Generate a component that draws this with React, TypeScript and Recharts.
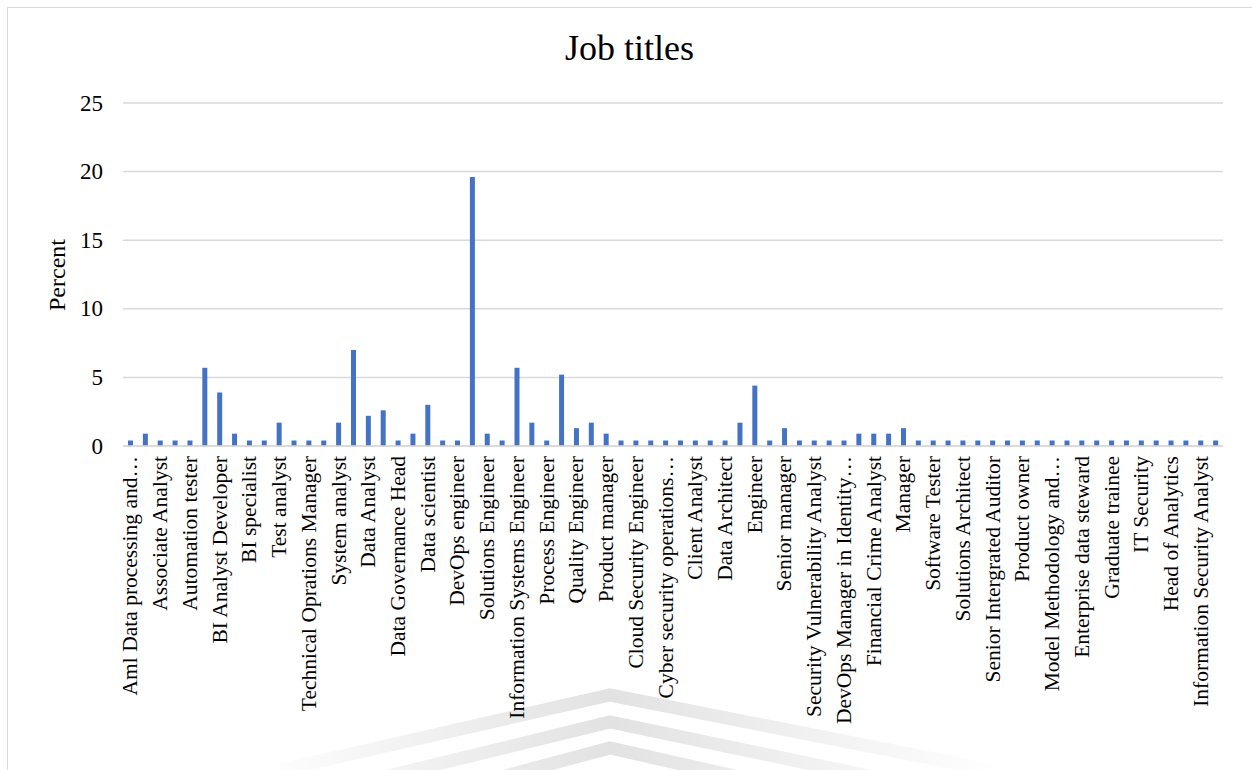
import { BarChart, Bar, XAxis, YAxis, CartesianGrid } from 'recharts'

const jobTitles = [
  'Aml Data processing and…', 'Business Analyst', 'Associate Analyst', 'Software Developer',
  'Automation tester', 'Full Stack Developer', 'BI Analyst Developer', 'Data Engineer',
  'BI specialist', 'IT Consultant', 'Test analyst', 'Systems Administrator',
  'Technical Oprations Manager', 'Network Engineer', 'System analyst', 'Java Developer',
  'Data Analyst', 'Analyst', 'Data Governance Head', 'Project manager',
  'Data scientist', 'Scrum Master', 'DevOps engineer', 'Software Engineer',
  'Solutions Engineer', 'Cloud Engineer', 'Information Systems Engineer', 'Test Engineer',
  'Process Engineer', 'Developer', 'Quality Engineer', 'QA Analyst',
  'Product manager', 'Team Lead', 'Cloud Security Engineer', 'Security Analyst',
  'Cyber security operations…', 'Database Administrator', 'Client Analyst', 'Risk Analyst',
  'Data Architect', 'Consultant', 'Engineer', 'Technical Lead',
  'Senior manager', 'Support Engineer', 'Security Vulnerability Analyst', 'Penetration Tester',
  'DevOps Manager in Identity…', 'IT Manager', 'Financial Crime Analyst', 'Data Modeller',
  'Manager', 'Systems Engineer', 'Software Tester', 'Machine Learning Engineer',
  'Solutions Architect', 'IT Auditor', 'Senior Intergrated Auditor', 'BI Developer',
  'Product owner', 'Quantitative Analyst', 'Model Methodology and…', 'Credit Risk Analyst',
  'Enterprise data steward', 'Intern', 'Graduate trainee', 'Network Administrator',
  'IT Security', 'Head of Engineering', 'Head of Analytics', 'Chief Technology Officer',
  'Information Security Analyst', 'Security Architect',
]

const percents = [
  0.4, 0.9, 0.4, 0.4, 0.4, 5.7, 3.9, 0.9, 0.4, 0.4, 1.7, 0.4, 0.4, 0.4, 1.7, 7.0,
  2.2, 2.6, 0.4, 0.9, 3.0, 0.4, 0.4, 19.6, 0.9, 0.4, 5.7, 1.7, 0.4, 5.2, 1.3, 1.7,
  0.9, 0.4, 0.4, 0.4, 0.4, 0.4, 0.4, 0.4, 0.4, 1.7, 4.4, 0.4, 1.3, 0.4, 0.4, 0.4,
  0.4, 0.9, 0.9, 0.9, 1.3, 0.4, 0.4, 0.4, 0.4, 0.4, 0.4, 0.4, 0.4, 0.4, 0.4, 0.4,
  0.4, 0.4, 0.4, 0.4, 0.4, 0.4, 0.4, 0.4, 0.4, 0.4,
]

const yTicks = [0, 5, 10, 15, 20, 25]

const data = jobTitles.map((title, i) => ({ title, percent: percents[i] }))

const serif = '"Liberation Serif", "Times New Roman", serif'

function XTick({ x, y, payload }: any) {
  return (
    <text
      x={x}
      y={y}
      transform={`rotate(-90, ${x}, ${y})`}
      textAnchor="end"
      dominantBaseline="central"
      fontFamily={serif}
      fontSize={21.5}
      fill="#000"
    >
      {payload.value}
    </text>
  )
}

function YTick({ x, y, payload }: any) {
  return (
    <text x={x} y={y} textAnchor="end" dominantBaseline="central" fontFamily={serif} fontSize={23} fill="#000">
      {payload.value}
    </text>
  )
}

export default function App() {
  return (
    <div style={{ position: 'absolute', left: 0, top: 0, width: 1252, height: 770, overflow: 'hidden', background: '#fff' }}>
      {/* faint watermark from the scanned page */}
      <svg width={1252} height={770} style={{ position: 'absolute', left: 0, top: 0 }}>
        <defs>
          <linearGradient id="wm" x1="250" y1="0" x2="1000" y2="0" gradientUnits="userSpaceOnUse">
            <stop offset="0" stopColor="#ffffff" />
            <stop offset="0.48" stopColor="#e2e2e2" />
            <stop offset="1" stopColor="#ffffff" />
          </linearGradient>
        </defs>
        <polyline points="280,770 610,695 990,770" fill="none" stroke="url(#wm)" strokeWidth={13} />
        <polyline points="310,795 610,722 960,795" fill="none" stroke="url(#wm)" strokeWidth={13} />
        <polyline points="340,820 610,748 930,820" fill="none" stroke="url(#wm)" strokeWidth={13} />
      </svg>
      <div style={{ position: 'absolute', left: 7, top: 7, width: 1250, height: 800, border: '1.5px solid #d9d9d9', boxSizing: 'border-box' }} />
      <div style={{ position: 'absolute', left: 7, width: 1245, top: 26, textAlign: 'center', fontFamily: serif, fontSize: 36, lineHeight: '44px' }}>
        Job titles
      </div>
      <div
        style={{
          position: 'absolute', left: 57, top: 275, transform: 'translate(-50%, -50%) rotate(-90deg)',
          fontFamily: serif, fontSize: 24, whiteSpace: 'nowrap',
        }}
      >
        Percent
      </div>
      <div style={{ position: 'absolute', left: 0, top: 0 }}>
        <BarChart
          width={1252}
          height={770}
          data={data}
          margin={{ top: 103, right: 29, left: 63, bottom: 4 }}
          barSize={5}
        >
          <CartesianGrid vertical={false} stroke="#d9d9d9" strokeWidth={1.5} />
          <XAxis
            dataKey="title"
            interval={1}
            height={320}
            tickLine={false}
            axisLine={{ stroke: '#d9d9d9', strokeWidth: 1.5 }}
            tick={<XTick />}
            tickMargin={4}
          />
          <YAxis
            width={60}
            domain={[0, 25]}
            ticks={yTicks}
            axisLine={false}
            tickLine={false}
            tick={<YTick />}
            tickMargin={14}
          />
          <Bar dataKey="percent" fill="#4472C4" isAnimationActive={false} />
        </BarChart>
      </div>
    </div>
  )
}
